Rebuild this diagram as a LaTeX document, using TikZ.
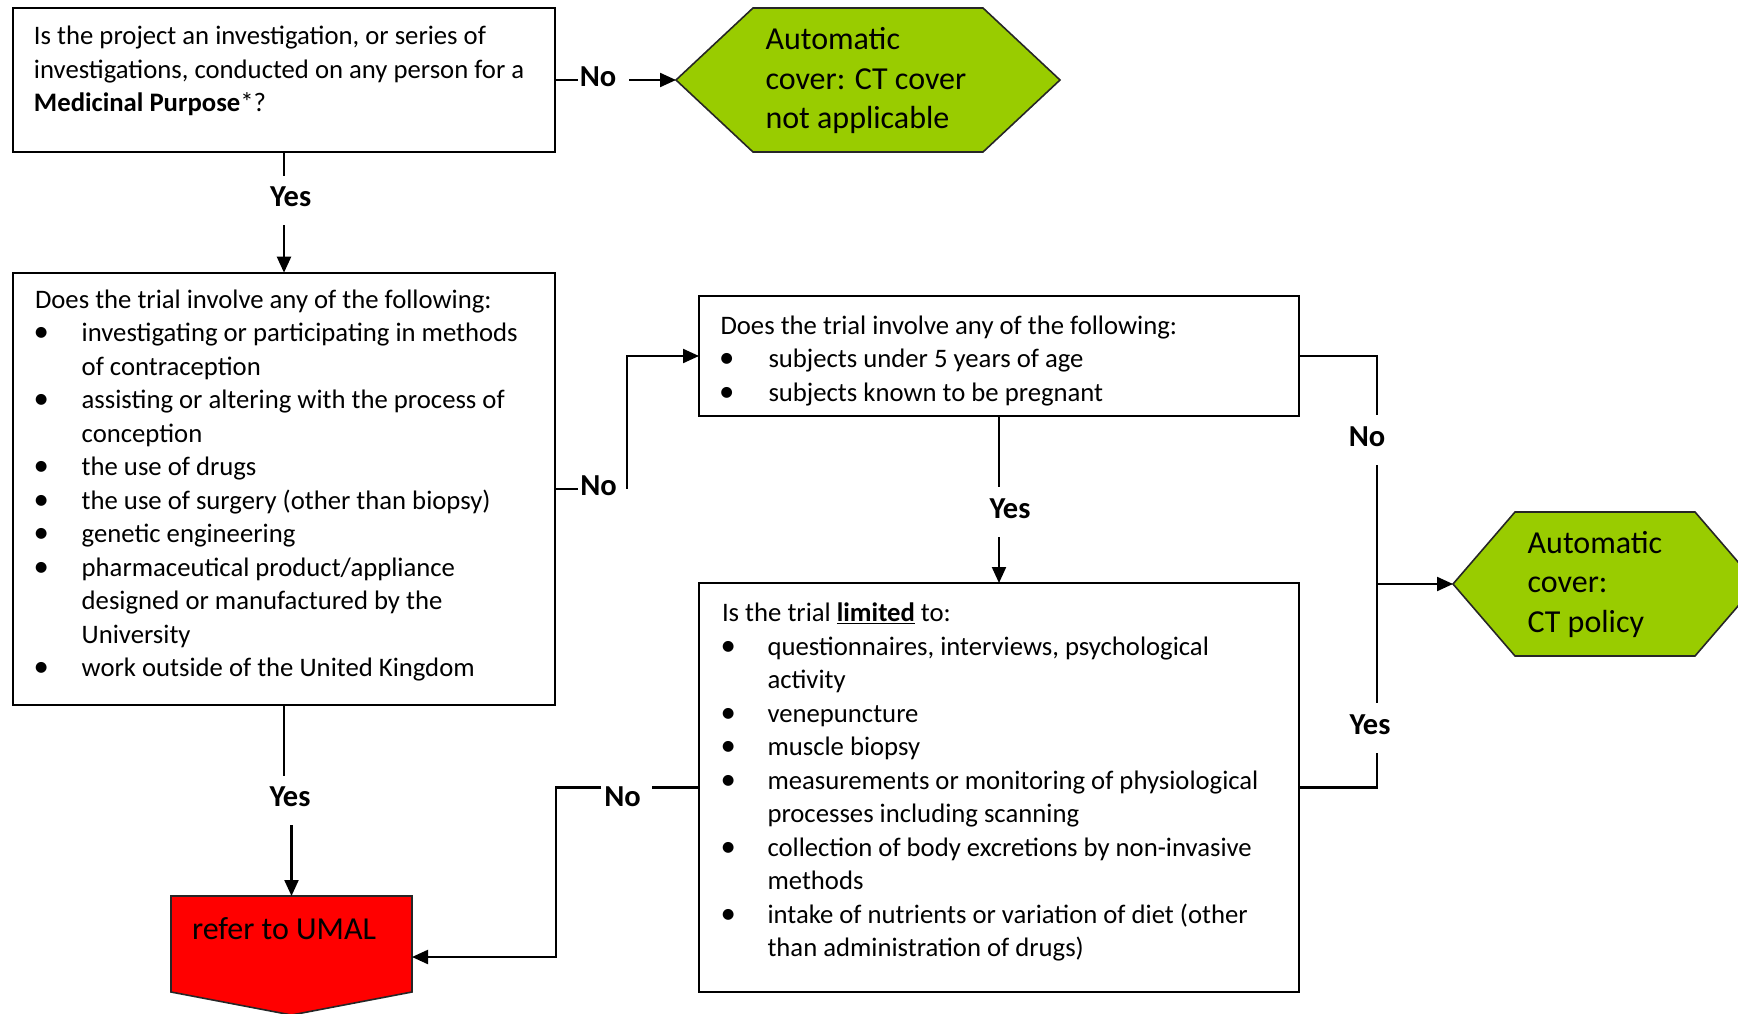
\documentclass[tikz,border=0pt]{standalone}
\usepackage{fontspec}
\setmainfont{Carlito}
\usetikzlibrary{arrows.meta,calc}
\definecolor{hexgreen}{RGB}{153,204,0}
\definecolor{umalred}{RGB}{255,0,0}
\newcommand\blt{\hspace*{-1.5pt}\scalebox{1.15}{\textbullet}}
\begin{document}
\begin{tikzpicture}[x=1pt,y=-1pt,
  box/.style={draw,line width=2.2pt,inner sep=0pt,outer sep=0pt,anchor=north west},
  shapebox/.style={inner sep=0pt,outer sep=0pt,anchor=north west},
  shapeline/.style={draw=black!85,line width=1.6pt,line join=miter},
  txt/.style={inner sep=0pt,outer sep=0pt,anchor=base west,font=\fontsize{26.7}{33.5}\selectfont},
  bigtxt/.style={inner sep=0pt,outer sep=0pt,anchor=base west,font=\fontsize{32}{39.3}\selectfont},
  lab/.style={inner sep=0pt,outer sep=0pt,anchor=base,font=\fontsize{30.5}{36}\selectfont\bfseries},
  conn/.style={line width=2.2pt},
  arr/.style={line width=2.2pt,-{Triangle[length=16pt,width=14pt]}}
]
\useasboundingbox (0,0) rectangle (1738,1014);

% ---- boxes ----
\node[box,minimum width=542pt,minimum height=144pt] (b1) at (13,8) {};
\node[box,minimum width=542pt,minimum height=432.3pt] (b2) at (13,272.7) {};
\node[box,minimum width=600pt,minimum height=120pt] (b3) at (699,296) {};
\node[box,minimum width=600pt,minimum height=409pt] (b4) at (699,583) {};

% ---- shaped terminals ----
\node[shapebox,minimum width=384pt,minimum height=144pt] (h1) at (676,8) {};
\path[shapeline,fill=hexgreen] (h1.west) -- ($(h1.north west)+(77,0)$) -- ($(h1.north east)+(-77,0)$)
  -- (h1.east) -- ($(h1.south east)+(-77,0)$) -- ($(h1.south west)+(77,0)$) -- cycle;
\node[shapebox,minimum width=304pt,minimum height=144pt] (h2) at (1453,512) {};
\path[shapeline,fill=hexgreen] (h2.west) -- ($(h2.north west)+(62,0)$) -- ($(h2.north east)+(-62,0)$)
  -- (h2.east) -- ($(h2.south east)+(-62,0)$) -- ($(h2.south west)+(62,0)$) -- cycle;
\node[shapebox,minimum width=241pt,minimum height=96pt] (red) at (171,896) {};
\path[shapeline,fill=umalred] (red.north west) -- (red.north east) -- (red.south east)
  -- ($(red.south)+(0,23)$) -- (red.south west) -- cycle;

% ---- texts ----
\node[txt] (t1) at (34,45) {\begin{tabular}[t]{@{}l@{}}
Is the project an investigation, or series of\\
investigations, conducted on any person for a\\
\textbf{Medicinal Purpose}*?\end{tabular}};

\node[txt] (t2) at (35,308.2) {\begin{tabular}[t]{@{}p{46.7pt}@{}l@{}}
\multicolumn{2}{@{}l@{}}{Does the trial involve any of the following:}\\
\blt & investigating or participating in methods\\
 & of contraception\\
\blt & assisting or altering with the process of\\
 & conception\\
\blt & the use of drugs\\
\blt & the use of surgery (other than biopsy)\\
\blt & genetic engineering\\
\blt & pharmaceutical product/appliance\\
 & designed or manufactured by the\\
 & University\\
\blt & work outside of the United Kingdom
\end{tabular}};

\node[txt] (t3) at (720.5,334) {\begin{tabular}[t]{@{}p{48pt}@{}l@{}}
\multicolumn{2}{@{}l@{}}{Does the trial involve any of the following:}\\
\blt & subjects under 5 years of age\\
\blt & subjects known to be pregnant
\end{tabular}};

\node[txt] (t4) at (722,621.5) {\begin{tabular}[t]{@{}p{45.5pt}@{}l@{}}
\multicolumn{2}{@{}l@{}}{Is the trial \underline{\textbf{limited}} to:}\\
\blt & questionnaires, interviews, psychological\\
 & activity\\
\blt & venepuncture\\
\blt & muscle biopsy\\
\blt & measurements or monitoring of physiological\\
 & processes including scanning\\
\blt & collection of body excretions by non-invasive\\
 & methods\\
\blt & intake of nutrients or variation of diet (other\\
 & than administration of drugs)
\end{tabular}};

\node[bigtxt] (th1) at (765.5,49.8) {\begin{tabular}[t]{@{}l@{}}
Automatic\\ cover: CT cover\\ not applicable\end{tabular}};
\node[bigtxt] (th2) at (1527.7,553.5) {\begin{tabular}[t]{@{}l@{}}
Automatic\\ cover:\\ CT policy\end{tabular}};
\node[bigtxt] (tred) at (192,939.5) {refer to UMAL};

% ---- labels ----
\node[lab] (nob1) at (598,87) {No};
\node[lab] (yesb1) at (290.7,207) {Yes};
\node[lab] (nob2) at (598.5,495.5) {No};
\node[lab] (yesb3) at (1010,518.5) {Yes};
\node[lab] (nob3) at (1367,446.5) {No};
\node[lab] (yesb4) at (1370,734.5) {Yes};
\node[lab] (yesb2) at (290,806.5) {Yes};
\node[lab] (nob4) at (622.6,806.5) {No};

% ---- connectors ----
\coordinate (jx) at (1377,584);
\draw[conn] (b1.east) -- ++(23,0);
\draw[arr] ($(b1.east)+(74,0)$) -- (h1.west);
\draw[conn] (b1.south) -- ++(0,24);
\draw[arr] ($(b1.south)+(0,73)$) -- (b2.north);

\draw[conn] (b2.east) -- ++(23,0);
\draw[arr] ($(b2.east)+(72,0)$) |- (b3.west);

\draw[conn] (b3.south) -- ++(0,71);
\draw[arr] ($(b3.south)+(0,121)$) -- (b4.north);

\draw[conn] (b3.east) -| ($(jx)+(0,-169)$);
\draw[conn] ($(jx)+(0,-119)$) -- ($(jx)+(0,119)$);
\draw[conn] (b4.east) -| ($(jx)+(0,169)$);
\draw[arr] (jx) -- (h2.west);

\draw[conn] (b4.west) -- ++(-47,0);
\draw[arr] ($(b4.west)+(-98,0)$) -- ($(b4.west)+(-143,0)$) |- ($(red.east)+(0,13)$);

\draw[conn] (b2.south) -- ++(0,71);
\draw[arr] ($(red.north)+(0,-71)$) -- (red.north);
\end{tikzpicture}
\end{document}
